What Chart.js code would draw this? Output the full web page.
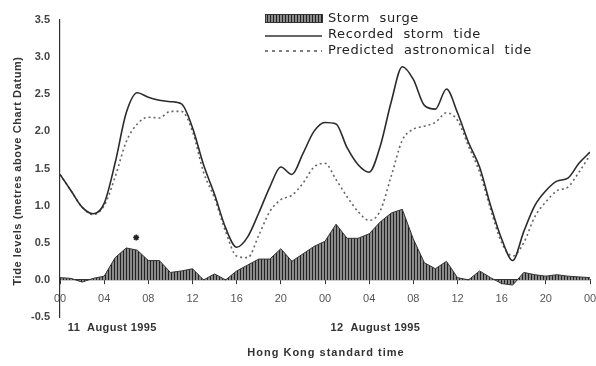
<!DOCTYPE html>
<html>
<head>
<meta charset="utf-8">
<script src="https://cdn.jsdelivr.net/npm/chart.js@4/dist/chart.umd.min.js"></script>
<style>
	body { margin: 0; background: #fff; }
	canvas { display: block; }
</style>
</head>
<body>
<canvas id="tide" width="596" height="366"></canvas>
<script>
// hours from 00 on 11 August 1995 to 00 on 13 August 1995
const hours = [0, 1, 2, 3, 4, 5, 6, 7, 8, 9, 10, 11, 12, 13, 14, 15, 16, 17, 18, 19, 20, 21, 22, 23, 24,
	25, 26, 27, 28, 29, 30, 31, 32, 33, 34, 35, 36, 37, 38, 39, 40, 41, 42, 43, 44, 45, 46, 47, 48]

const recorded = [1.42, 1.2, 0.98, 0.89, 1.03, 1.58, 2.25, 2.52, 2.46, 2.42, 2.4, 2.37, 2.05,
	1.55, 1.15, 0.7, 0.44, 0.58, 0.9, 1.25, 1.52, 1.42, 1.7, 2.0, 2.12,
	2.1, 1.78, 1.55, 1.45, 1.8, 2.4, 2.87, 2.7, 2.35, 2.3, 2.57, 2.25,
	1.85, 1.52, 1.0, 0.55, 0.26, 0.65, 1.0, 1.2, 1.33, 1.37, 1.57, 1.72]

const predicted = [1.42, 1.2, 0.98, 0.88, 1.0, 1.39, 1.86, 2.1, 2.19, 2.18, 2.27, 2.27, 2.0,
	1.45, 1.1, 0.65, 0.32, 0.3, 0.6, 0.92, 1.08, 1.14, 1.3, 1.52, 1.57,
	1.35, 1.12, 0.92, 0.8, 0.93, 1.4, 1.88, 2.03, 2.07, 2.12, 2.25, 2.15,
	1.8, 1.45, 0.95, 0.5, 0.32, 0.5, 0.85, 1.05, 1.2, 1.25, 1.45, 1.68]

const surge = [0.03, 0.02, -0.03, 0.02, 0.05, 0.3, 0.43, 0.4, 0.26, 0.26, 0.1, 0.12, 0.15,
	0.0, 0.08, 0.0, 0.12, 0.2, 0.28, 0.28, 0.42, 0.25, 0.35, 0.45, 0.52,
	0.75, 0.56, 0.56, 0.62, 0.78, 0.9, 0.95, 0.55, 0.23, 0.15, 0.25, 0.03,
	0.0, 0.12, 0.03, -0.05, -0.07, 0.1, 0.07, 0.05, 0.07, 0.05, 0.04, 0.03]

// the small asterisk above the first surge peak
const markX = [6.9]
const markY = [0.57]

const seriesNames = ['Storm  surge', 'Recorded  storm  tide', 'Predicted  astronomical  tide']
const dateLabels = ['11  August 1995', '12  August 1995']
const dateHours = [0.7, 24.5]
const xTitle = 'Hong Kong standard time'
const yTitle = 'Tide levels (metres above Chart Datum)'

function hatch() {
	const c = document.createElement('canvas')
	c.width = 3
	c.height = 8
	const g = c.getContext('2d')
	g.fillStyle = '#8a8a8a'
	g.fillRect(0, 0, 3, 8)
	g.fillStyle = '#222'
	g.fillRect(0, 0, 1, 8)
	return g.createPattern(c, 'repeat')
}

const pts = (vals) => hours.map((h, i) => ({x: h, y: vals[i]}))

const extras = {
	id: 'extras',
	afterDraw(chart) {
		const ctx = chart.ctx
		const xs = chart.scales.x
		ctx.save()
		ctx.textBaseline = 'middle'

		// legend
		ctx.fillStyle = hatch()
		ctx.fillRect(265, 14, 58, 9)
		ctx.strokeStyle = '#333'
		ctx.lineWidth = 1
		ctx.strokeRect(265.5, 14.5, 57, 8)
		ctx.beginPath()
		ctx.lineWidth = 1.5
		ctx.moveTo(265, 36)
		ctx.lineTo(322, 36)
		ctx.stroke()
		ctx.beginPath()
		ctx.setLineDash([3, 4])
		ctx.strokeStyle = '#555'
		ctx.moveTo(265, 51)
		ctx.lineTo(322, 51)
		ctx.stroke()
		ctx.setLineDash([])
		ctx.fillStyle = '#222'
		ctx.font = '13px "DejaVu Sans"'
		ctx.letterSpacing = '0.6px'
		ctx.textAlign = 'left'
		seriesNames.forEach((s, i) => ctx.fillText(s, 328, 19 + i * 16))

		// dates under the time axis
		ctx.font = 'bold 11px "Liberation Sans"'
		ctx.letterSpacing = '0.4px'
		ctx.fillStyle = '#333'
		dateLabels.forEach((s, i) => ctx.fillText(s, xs.getPixelForValue(dateHours[i]), 328))

		// axis titles
		ctx.textAlign = 'center'
		ctx.letterSpacing = '1px'
		ctx.fillText(xTitle, 326, 353)
		ctx.translate(18, 171)
		ctx.rotate(-Math.PI / 2)
		ctx.letterSpacing = '0.6px'
		ctx.fillText(yTitle, 0, 0)
		ctx.restore()
	}
}

new Chart(document.getElementById('tide'), {
	type: 'line',
	data: {
		datasets: [
			{
				label: 'mark',
				data: markX.map((x, i) => ({x: x, y: markY[i]})),
				showLine: false,
				pointStyle: 'star',
				pointRadius: 3,
				borderColor: '#222',
				borderWidth: 1.5,
			},
			{
				label: seriesNames[1],
				data: pts(recorded),
				borderColor: '#2b2b2b',
				borderWidth: 1.6,
				pointRadius: 0,
				cubicInterpolationMode: 'monotone',
				fill: false,
			},
			{
				label: seriesNames[2],
				data: pts(predicted),
				borderColor: '#666',
				borderWidth: 1.6,
				borderDash: [2, 3],
				pointRadius: 0,
				cubicInterpolationMode: 'monotone',
				fill: false,
			},
			{
				label: seriesNames[0],
				data: pts(surge),
				borderColor: '#333',
				borderWidth: 1,
				backgroundColor: hatch(),
				pointRadius: 0,
				tension: 0,
				fill: 'origin',
			},
		]
	},
	plugins: [extras],
	options: {
		responsive: false,
		animation: false,
		devicePixelRatio: 1,
		layout: {
			padding: {top: 20, right: 6, bottom: 49, left: 0}
		},
		scales: {
			x: {
				type: 'linear',
				position: {y: 0},
				min: 0,
				max: 48,
				afterFit: (scale) => {
					scale.height = 0
					scale.paddingLeft = 0
					scale.paddingRight = 0
				},
				border: {color: '#333', width: 1.2},
				grid: {drawOnChartArea: false, tickLength: 4, color: '#333'},
				ticks: {
					stepSize: 4,
					autoSkip: false,
					maxRotation: 0,
					padding: 8,
					color: '#555',
					font: {family: '"Liberation Sans"', size: 11},
					callback: (v) => String(v % 24).padStart(2, '0')
				}
			},
			y: {
				min: -0.5,
				max: 3.5,
				afterFit: (scale) => { scale.width = 60 },
				border: {color: '#333', width: 1.2},
				grid: {drawOnChartArea: false, drawTicks: false},
				ticks: {
					stepSize: 0.5,
					padding: 10,
					color: '#444',
					font: {family: '"Liberation Sans"', size: 11, weight: 'bold'},
					callback: (v) => v.toFixed(1)
				}
			}
		},
		plugins: {
			legend: {display: false},
			tooltip: {enabled: false}
		}
	}
})
</script>
</body>
</html>
